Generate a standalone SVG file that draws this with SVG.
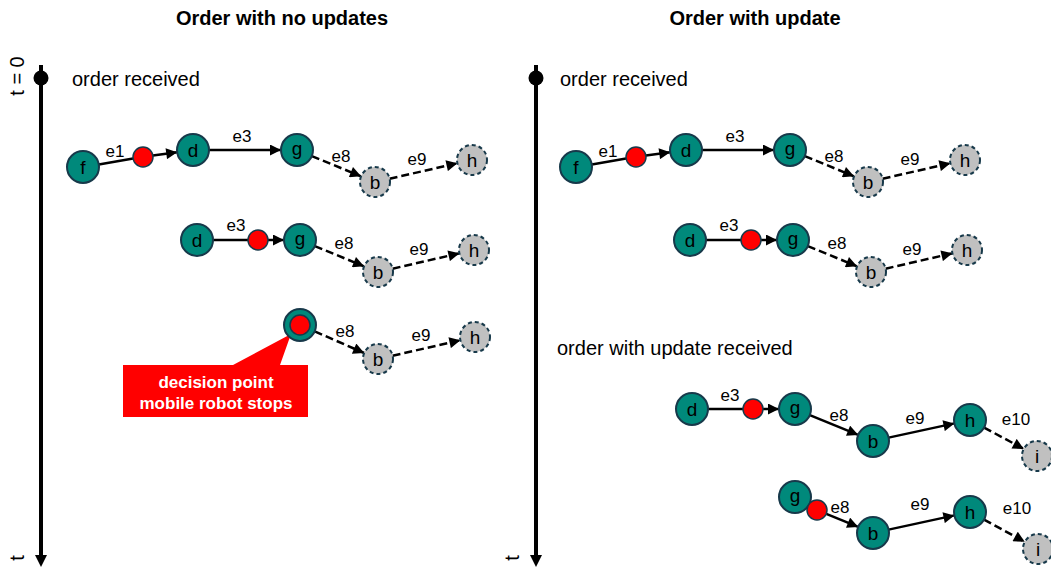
<svg xmlns="http://www.w3.org/2000/svg" width="1051" height="568" viewBox="0 0 1051 568">
<defs>
<style>
.title{font-family:"Liberation Sans",Arial,sans-serif;font-size:20px;font-weight:bold;fill:#000;text-anchor:middle}
.ev{font-family:"Liberation Sans",Arial,sans-serif;font-size:20px;fill:#000}
.lbl{font-family:"Liberation Sans",Arial,sans-serif;font-size:17px;fill:#000;text-anchor:middle}
.nl{font-family:"Liberation Sans",Arial,sans-serif;font-size:19px;fill:#000;text-anchor:middle}
.teal{fill:#00897b;stroke:#17394a;stroke-width:2}
.grey{fill:#c0c0c0;stroke:#17394a;stroke-width:2;stroke-dasharray:4,3}
.red{fill:#ff0000;stroke:#17394a;stroke-width:1.5}
.e{stroke:#000;stroke-width:2.5;fill:none}
.ea{stroke:#000;stroke-width:2.5;fill:none;marker-end:url(#ah)}
.da{stroke:#000;stroke-width:2.5;fill:none;stroke-dasharray:8,4;marker-end:url(#ah)}
.tl{stroke:#000;stroke-width:4}
.call{font-family:"Liberation Sans",Arial,sans-serif;font-size:17px;font-weight:bold;fill:#fff;text-anchor:middle}
</style>
<marker id="ah" viewBox="0 0 10 10" refX="10" refY="5" markerWidth="12" markerHeight="11" markerUnits="userSpaceOnUse" orient="auto">
<path d="M0,0 L10,5 L0,10 Z" fill="#000"/>
</marker>
</defs>
<rect width="1051" height="568" fill="#fff"/>

<text class="title" x="282" y="25">Order with no updates</text>
<text class="title" x="755" y="25">Order with update</text>

<g id="timeline-left">
<line class="tl" x1="41" y1="65" x2="41" y2="556"/>
<polygon points="35,555 47,555 41,567" fill="#000"/>
<circle cx="41" cy="78" r="7.5" fill="#000"/>
<text class="ev" transform="translate(24,76) rotate(-90)" text-anchor="middle">t = 0</text>
<text class="ev" transform="translate(24,558) rotate(-90)" text-anchor="middle">t</text>
<text class="ev" x="72" y="86">order received</text>
</g>
<g id="timeline-right">
<line class="tl" x1="536" y1="65" x2="536" y2="556"/>
<polygon points="530,555 542,555 536,567" fill="#000"/>
<circle cx="536" cy="78" r="7.5" fill="#000"/>
<text class="ev" transform="translate(519,558) rotate(-90)" text-anchor="middle">t</text>
<text class="ev" x="560" y="86">order received</text>
<text class="ev" x="557" y="355">order with update received</text>
</g>

<g id="callout">
<path d="M123,365 H233 L291,334 L280,365 H308 V417 H123 Z" fill="#ff0000"/>
<text class="call" x="216" y="388">decision point</text>
<text class="call" x="216" y="409">mobile robot stops</text>
</g>

<g id="connectors">
<line class="e" x1="98.8" y1="164.4" x2="133.1" y2="158.6"/>
<line class="ea" x1="152.9" y1="155.6" x2="177.2" y2="152.2"/>
<line class="ea" x1="209" y1="150" x2="281" y2="150"/>
<line class="da" x1="311.8" y1="156.1" x2="361.1" y2="176.3"/>
<line class="da" x1="389.6" y1="178.7" x2="457.4" y2="163.3"/>
<line class="e" x1="213" y1="240" x2="248" y2="240"/>
<line class="ea" x1="268" y1="240" x2="284" y2="240"/>
<line class="da" x1="314.8" y1="246.1" x2="364.1" y2="266.3"/>
<line class="da" x1="392.6" y1="268.7" x2="459.4" y2="253.3"/>
<line class="da" x1="314.7" y1="331.4" x2="364.2" y2="353"/>
<line class="da" x1="392.6" y1="355.7" x2="460.4" y2="340.3"/>
<line class="e" x1="591.8" y1="164.4" x2="626.1" y2="158.6"/>
<line class="ea" x1="645.9" y1="155.6" x2="670.2" y2="152.2"/>
<line class="ea" x1="702" y1="150" x2="774" y2="150"/>
<line class="da" x1="804.8" y1="156.1" x2="854.1" y2="176.3"/>
<line class="da" x1="882.6" y1="178.7" x2="950.4" y2="163.3"/>
<line class="e" x1="706" y1="240" x2="741" y2="240"/>
<line class="ea" x1="761" y1="240" x2="777" y2="240"/>
<line class="da" x1="807.8" y1="246.1" x2="857.1" y2="266.3"/>
<line class="da" x1="885.6" y1="268.7" x2="952.4" y2="253.3"/>
<line class="e" x1="708" y1="409" x2="743" y2="409"/>
<line class="ea" x1="763" y1="409" x2="779" y2="409"/>
<line class="ea" x1="809.8" y1="415.1" x2="858.2" y2="434.9"/>
<line class="ea" x1="888.6" y1="437.6" x2="954.4" y2="423.4"/>
<line class="da" x1="984.1" y1="427.6" x2="1023.8" y2="448.9"/>
<line class="ea" x1="826.3" y1="513.8" x2="858.2" y2="526.9"/>
<line class="ea" x1="888.6" y1="529.6" x2="954.4" y2="515.4"/>
<line class="da" x1="984" y1="519.6" x2="1024.8" y2="541.8"/>
</g>

<g id="edge-labels">
<text class="lbl" x="115" y="157">e1</text>
<text class="lbl" x="242" y="142">e3</text>
<text class="lbl" x="341" y="162">e8</text>
<text class="lbl" x="417" y="165">e9</text>
<text class="lbl" x="236" y="231">e3</text>
<text class="lbl" x="344" y="249">e8</text>
<text class="lbl" x="419" y="255">e9</text>
<text class="lbl" x="345" y="337">e8</text>
<text class="lbl" x="421" y="341">e9</text>
<text class="lbl" x="608" y="157">e1</text>
<text class="lbl" x="735" y="142">e3</text>
<text class="lbl" x="834" y="162">e8</text>
<text class="lbl" x="910" y="165">e9</text>
<text class="lbl" x="729" y="231">e3</text>
<text class="lbl" x="837" y="249">e8</text>
<text class="lbl" x="912" y="255">e9</text>
<text class="lbl" x="730" y="401">e3</text>
<text class="lbl" x="839" y="421">e8</text>
<text class="lbl" x="915" y="424">e9</text>
<text class="lbl" x="1016" y="425">e10</text>
<text class="lbl" x="840" y="513">e8</text>
<text class="lbl" x="920" y="510">e9</text>
<text class="lbl" x="1017" y="514">e10</text>
</g>

<g id="L1-f"><circle class="teal" cx="83" cy="167" r="16"/><text class="nl" x="83" y="174">f</text></g>
<g id="L1-x"><circle class="red" cx="143" cy="157" r="10"/></g>
<g id="L1-d"><circle class="teal" cx="193" cy="150" r="16"/><text class="nl" x="193" y="157">d</text></g>
<g id="L1-g"><circle class="teal" cx="297" cy="150" r="16"/><text class="nl" x="297" y="155">g</text></g>
<g id="L1-b"><circle class="grey" cx="375" cy="182" r="15"/><text class="nl" x="375" y="189">b</text></g>
<g id="L1-h"><circle class="grey" cx="472" cy="160" r="15"/><text class="nl" x="472" y="167">h</text></g>
<g id="L2-d"><circle class="teal" cx="197" cy="240" r="16"/><text class="nl" x="197" y="247">d</text></g>
<g id="L2-x"><circle class="red" cx="258" cy="240" r="10"/></g>
<g id="L2-g"><circle class="teal" cx="300" cy="240" r="16"/><text class="nl" x="300" y="245">g</text></g>
<g id="L2-b"><circle class="grey" cx="378" cy="272" r="15"/><text class="nl" x="378" y="279">b</text></g>
<g id="L2-h"><circle class="grey" cx="474" cy="250" r="15"/><text class="nl" x="474" y="257">h</text></g>
<g id="L3-dp"><circle class="teal" cx="300" cy="325" r="16"/><circle class="red" cx="300" cy="325" r="10"/></g>
<g id="L3-b"><circle class="grey" cx="378" cy="359" r="15"/><text class="nl" x="378" y="366">b</text></g>
<g id="L3-h"><circle class="grey" cx="475" cy="337" r="15"/><text class="nl" x="475" y="344">h</text></g>
<g id="R1-f"><circle class="teal" cx="576" cy="167" r="16"/><text class="nl" x="576" y="174">f</text></g>
<g id="R1-x"><circle class="red" cx="636" cy="157" r="10"/></g>
<g id="R1-d"><circle class="teal" cx="686" cy="150" r="16"/><text class="nl" x="686" y="157">d</text></g>
<g id="R1-g"><circle class="teal" cx="790" cy="150" r="16"/><text class="nl" x="790" y="155">g</text></g>
<g id="R1-b"><circle class="grey" cx="868" cy="182" r="15"/><text class="nl" x="868" y="189">b</text></g>
<g id="R1-h"><circle class="grey" cx="965" cy="160" r="15"/><text class="nl" x="965" y="167">h</text></g>
<g id="R2-d"><circle class="teal" cx="690" cy="240" r="16"/><text class="nl" x="690" y="247">d</text></g>
<g id="R2-x"><circle class="red" cx="751" cy="240" r="10"/></g>
<g id="R2-g"><circle class="teal" cx="793" cy="240" r="16"/><text class="nl" x="793" y="245">g</text></g>
<g id="R2-b"><circle class="grey" cx="871" cy="272" r="15"/><text class="nl" x="871" y="279">b</text></g>
<g id="R2-h"><circle class="grey" cx="967" cy="250" r="15"/><text class="nl" x="967" y="257">h</text></g>
<g id="R3-d"><circle class="teal" cx="692" cy="409" r="16"/><text class="nl" x="692" y="416">d</text></g>
<g id="R3-x"><circle class="red" cx="753" cy="409" r="10"/></g>
<g id="R3-g"><circle class="teal" cx="795" cy="409" r="16"/><text class="nl" x="795" y="414">g</text></g>
<g id="R3-b"><circle class="teal" cx="873" cy="441" r="16"/><text class="nl" x="873" y="448">b</text></g>
<g id="R3-h"><circle class="teal" cx="970" cy="420" r="16"/><text class="nl" x="970" y="427">h</text></g>
<g id="R3-i"><circle class="grey" cx="1037" cy="456" r="15"/><text class="nl" x="1037" y="463">i</text></g>
<g id="R4-g"><circle class="teal" cx="795" cy="497" r="16"/><text class="nl" x="795" y="502">g</text></g>
<g id="R4-x"><circle class="red" cx="817" cy="510" r="10"/></g>
<g id="R4-b"><circle class="teal" cx="873" cy="533" r="16"/><text class="nl" x="873" y="540">b</text></g>
<g id="R4-h"><circle class="teal" cx="970" cy="512" r="16"/><text class="nl" x="970" y="519">h</text></g>
<g id="R4-i"><circle class="grey" cx="1038" cy="549" r="15"/><text class="nl" x="1038" y="556">i</text></g>
</svg>
